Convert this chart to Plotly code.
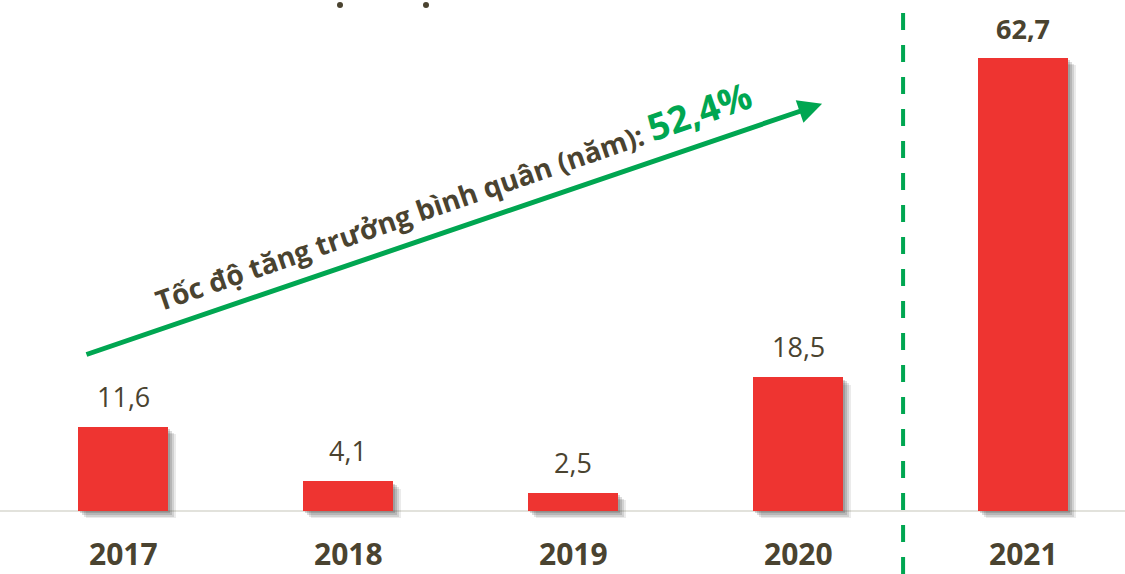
import plotly.graph_objects as go

years = ["2017", "2018", "2019", "2020", "2021"]
values = [11.6, 4.1, 2.5, 18.5, 62.7]
value_labels = ["11,6", "4,1", "2,5", "18,5", "62,7"]
growth_label = "Tốc độ tăng trưởng bình quân (năm): "
growth_value = "52,4%"

RED = "#EE3431"
TXT = "#4A4330"
GREEN = "#00A651"
FONT = "Open Sans"

xs = list(range(len(years)))
bw = 0.4

fig = go.Figure()

# soft drop shadows (derived from the same values)
for dx, dy, op in [(0.034, 1.0, 0.10), (0.026, 0.8, 0.14), (0.018, 0.55, 0.18), (0.010, 0.3, 0.20)]:
    fig.add_trace(go.Bar(
        x=xs, y=values, base=[-dy] * len(values), width=bw, offset=-bw / 2 + dx,
        marker=dict(color=f"rgba(60,60,60,{op})", line=dict(width=0)),
        hoverinfo="skip", showlegend=False,
    ))

fig.add_trace(go.Bar(
    x=xs, y=values, width=bw, offset=-bw / 2,
    marker=dict(color=RED, line=dict(width=0)),
    showlegend=False,
))

annotations = []
for i, (v, lab) in enumerate(zip(values, value_labels)):
    bold = i == len(values) - 1
    annotations.append(dict(
        x=i, y=v, xref="x", yref="y", text=f"<b>{lab}</b>" if bold else lab,
        showarrow=False, yanchor="bottom", yshift=10 if not bold else 9,
        font=dict(family=FONT, size=27, color=TXT),
    ))
    annotations.append(dict(
        x=i, y=0, xref="x", yref="y", text=f"<b>{years[i]}</b>",
        showarrow=False, yanchor="top", yshift=-20,
        font=dict(family=FONT, size=30, color=TXT),
    ))

# growth arrow
annotations.append(dict(
    x=3.107, y=56.4, ax=-0.169, ay=21.6, xref="x", yref="y", axref="x", ayref="y",
    text="", showarrow=True, arrowhead=2, arrowsize=0.95, arrowwidth=5, arrowcolor=GREEN,
))
annotations.append(dict(
    x=452 / 1125, y=1 - 195 / 574, xref="paper", yref="paper", xanchor="center", yanchor="middle",
    text=f"<b>{growth_label}<span style='color:{GREEN};font-size:37px'>{growth_value}</span></b>",
    showarrow=False, textangle=-19,
    font=dict(family=FONT, size=28, color=TXT),
))

shapes = [
    dict(type="line", xref="paper", yref="y", x0=0, x1=1, y0=0, y1=0,
         line=dict(color="#E2E2DC", width=2), layer="below"),
    dict(type="line", xref="x", yref="paper", x0=3.467, x1=3.467, y0=0, y1=1,
         line=dict(color=GREEN, width=4, dash="17px,15px")),
]
for px in (340, 426):
    shapes.append(dict(type="circle", xref="paper", yref="paper",
                       x0=(px - 3) / 1125, x1=(px + 3) / 1125,
                       y0=1 - 8 / 574, y1=1 - 2 / 574,
                       fillcolor=TXT, line=dict(width=0)))

fig.update_layout(
    width=1125, height=574,
    margin=dict(l=0, r=0, t=0, b=0),
    paper_bgcolor="white", plot_bgcolor="white",
    barmode="overlay", bargap=0,
    xaxis=dict(range=[-0.5467, 4.4533], visible=False, fixedrange=True),
    yaxis=dict(range=[-8.73, 70.77], visible=False, fixedrange=True),
    annotations=annotations, shapes=shapes,
    font=dict(family=FONT, color=TXT),
)

fig.write_html(
    "out.html",
    config={"displayModeBar": False},
    post_script="document.body.style.margin='0';document.body.style.overflow='hidden';",
)
